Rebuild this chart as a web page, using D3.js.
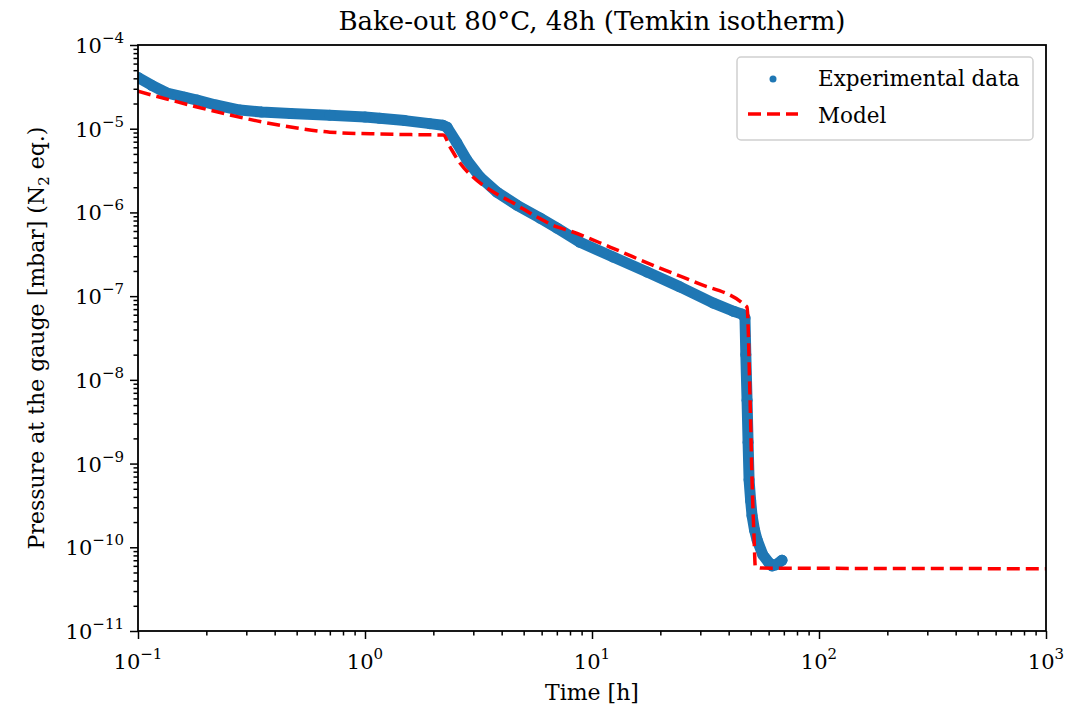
<!DOCTYPE html>
<html lang="en">
<head>
<meta charset="UTF-8">
<title>Bake-out 80°C, 48h (Temkin isotherm)</title>
<script src="https://d3js.org/d3.v7.min.js"></script>
<style>
  body { margin: 0; background: #fff; }
  text { font-family: "DejaVu Serif", "Liberation Serif", serif; fill: #000; }
</style>
</head>
<body>
<script>
    var expTime = [0.1, 0.115, 0.134, 0.16, 0.182, 0.22, 0.281, 0.35, 0.47, 0.7, 1.0, 1.16, 1.5, 1.93, 2.2, 2.3,
        2.54, 2.81, 3.21, 3.81, 4.67, 5.9, 7.01, 8.86, 12.4, 17.5, 24.4, 34.1, 42, 45.8,
        47.2, 47.6, 48.2, 48.7, 49.2, 50.0, 50.7, 52.0, 53.4, 56.6, 60, 62.1, 64.8, 68.7];
    var expPressure = [4.1e-5, 3.3e-5, 2.67e-5, 2.38e-5, 2.2e-5, 1.92e-5, 1.67e-5, 1.58e-5, 1.52e-5, 1.45e-5, 1.38e-5, 1.33e-5, 1.25e-5, 1.15e-5, 1.1e-5, 1.04e-5,
        6.75e-6, 4.23e-6, 2.65e-6, 1.75e-6, 1.22e-6, 8.57e-7, 6.51e-7, 4.4e-7, 2.93e-7, 1.94e-7, 1.29e-7, 8.3e-8, 6.6e-8, 6.1e-8,
        5.5e-8, 2.0e-8, 5.7e-9, 1.8e-9, 6.4e-10, 3.6e-10, 2.4e-10, 1.6e-10, 1.22e-10, 8.1e-11, 6.6e-11, 6.0e-11, 6.2e-11, 7.0e-11];

    // model curve
    var modelTime = [0.1, 0.134, 0.182, 0.254, 0.334, 0.501, 0.7, 1.16, 1.6, 2.21,
        2.37, 2.62, 2.99, 3.56, 4.49, 5.73, 7.01, 8.0, 12.0, 19.3, 29.0, 48.2,
        49.7, 50.7, 51.8, 52.4, 56, 1000];
    var modelPressure = [2.8e-5, 2.26e-5, 1.82e-5, 1.46e-5, 1.24e-5, 1.02e-5, 9.1e-6, 8.65e-6, 8.5e-6, 8.41e-6,
        6.04e-6, 3.89e-6, 2.65e-6, 1.85e-6, 1.3e-6, 8.81e-7, 6.7e-7, 6.0e-7, 3.86e-7, 2.23e-7, 1.44e-7, 7.4e-8,
        5.7e-9, 6.4e-10, 1.22e-10, 5.9e-11, 5.64e-11, 5.55e-11];

    var xMajor = [0.1, 1, 10, 100, 1000];
    var xExp = [-1, 0, 1, 2, 3];
    var yMajor = [1e-4, 1e-5, 1e-6, 1e-7, 1e-8, 1e-9, 1e-10, 1e-11];
    var yExp = [-4, -5, -6, -7, -8, -9, -10, -11];

    var W = 1066, H = 707;
    var pLeft = 138, pRight = 1046, pTop = 45, pBottom = 631;

    var x = d3.scaleLog().domain([0.1, 1000]).range([pLeft, pRight]);
    var y = d3.scaleLog().domain([1e-11, 1e-4]).range([pBottom, pTop]);

    var svg = d3.select("body").append("svg")
        .attr("width", W)
        .attr("height", H);

    function minors(lo, hi) {
        var out = [];
        for (var e = lo; e < hi; e++) {
            for (var m = 2; m <= 9; m++) out.push(m * Math.pow(10, e));
        }
        return out;
    }

    svg.append("defs").append("clipPath").attr("id", "plotclip")
        .append("rect")
        .attr("x", pLeft).attr("y", pTop)
        .attr("width", pRight - pLeft).attr("height", pBottom - pTop);

    // data layers
    var plot = svg.append("g").attr("clip-path", "url(#plotclip)");

    var expData = expTime.map(function(t, i) { return [t, expPressure[i]]; });
    var modelData = modelTime.map(function(t, i) { return [t, modelPressure[i]]; });

    var line = d3.line()
        .x(function(d) { return x(d[0]); })
        .y(function(d) { return y(d[1]); });

    var blue = "#1f77b4";

    // dense scatter drawn as a band plus the read points
    plot.append("path")
        .attr("d", line(expData))
        .attr("fill", "none")
        .attr("stroke", blue)
        .attr("stroke-width", 11)
        .attr("stroke-linejoin", "round")
        .attr("stroke-linecap", "round");

    plot.append("g").selectAll("circle")
        .data(expData)
        .enter().append("circle")
        .attr("cx", function(d) { return x(d[0]); })
        .attr("cy", function(d) { return y(d[1]); })
        .attr("r", 5.5)
        .attr("fill", blue);

    plot.append("path")
        .attr("d", line.curve(d3.curveMonotoneX)(modelData))
        .attr("fill", "none")
        .attr("stroke", "#ff0000")
        .attr("stroke-width", 3.5)
        .attr("stroke-dasharray", "13,6");

    // axes
    var xAxis = svg.append("g").attr("transform", "translate(0," + pBottom + ")");
    xAxis.call(d3.axisBottom(x).tickValues(xMajor).tickSize(8).tickSizeOuter(0).tickFormat(""));
    xAxis.append("g").call(d3.axisBottom(x).tickValues(minors(-1, 3)).tickSize(4.5).tickSizeOuter(0).tickFormat(""));

    var yAxis = svg.append("g").attr("transform", "translate(" + pLeft + ",0)");
    yAxis.call(d3.axisLeft(y).tickValues(yMajor).tickSize(8).tickSizeOuter(0).tickFormat(""));
    yAxis.append("g").call(d3.axisLeft(y).tickValues(minors(-11, -4)).tickSize(4.5).tickSizeOuter(0).tickFormat(""));

    svg.selectAll(".tick line").attr("stroke", "#000").attr("stroke-width", 1.5);
    svg.selectAll(".domain").remove();

    // tick labels with exponents
    xMajor.forEach(function(v, i) {
        var t = svg.append("text")
            .attr("x", x(v))
            .attr("y", pBottom + 38)
            .attr("text-anchor", "middle")
            .style("font-size", "21px");
        t.append("tspan").text("10");
        t.append("tspan").attr("dy", -10).style("font-size", "15px").text(xExp[i] < 0 ? "\u2212" + (-xExp[i]) : xExp[i]);
    });

    yMajor.forEach(function(v, i) {
        var t = svg.append("text")
            .attr("x", pLeft - 14)
            .attr("y", y(v) + 8)
            .attr("text-anchor", "end")
            .style("font-size", "21px");
        t.append("tspan").text("10");
        t.append("tspan").attr("dy", -10).style("font-size", "15px").text("\u2212" + (-yExp[i]));
    });

    // frame
    svg.append("rect")
        .attr("x", pLeft).attr("y", pTop)
        .attr("width", pRight - pLeft).attr("height", pBottom - pTop)
        .attr("fill", "none")
        .attr("stroke", "#000")
        .attr("stroke-width", 1.8);

    // titles
    svg.append("text")
        .attr("x", (pLeft + pRight) / 2)
        .attr("y", 30)
        .attr("text-anchor", "middle")
        .style("font-size", "26px")
        .text("Bake-out 80\u00b0C, 48h (Temkin isotherm)");

    svg.append("text")
        .attr("x", (pLeft + pRight) / 2)
        .attr("y", 700)
        .attr("text-anchor", "middle")
        .style("font-size", "22px")
        .text("Time [h]");

    var yl = svg.append("text")
        .attr("transform", "translate(44," + ((pTop + pBottom) / 2) + ") rotate(-90)")
        .attr("text-anchor", "middle")
        .style("font-size", "22px");
    yl.append("tspan").text("Pressure at the gauge [mbar] (N");
    yl.append("tspan").attr("dy", 5).style("font-size", "15px").text("2");
    yl.append("tspan").attr("dy", -5).text(" eq.)");

    // legend
    var lg = svg.append("g");
    lg.append("rect")
        .attr("x", 737).attr("y", 57)
        .attr("width", 296).attr("height", 83)
        .attr("rx", 4)
        .attr("fill", "#fff")
        .attr("fill-opacity", 0.8)
        .attr("stroke", "#d0d0d0")
        .attr("stroke-width", 1.5);
    lg.append("circle")
        .attr("cx", 773).attr("cy", 79)
        .attr("r", 3.5)
        .attr("fill", blue);
    lg.append("line")
        .attr("x1", 748).attr("x2", 798)
        .attr("y1", 114).attr("y2", 114)
        .attr("stroke", "#ff0000")
        .attr("stroke-width", 3.5)
        .attr("stroke-dasharray", "13,6");
    lg.append("text")
        .attr("x", 818).attr("y", 86)
        .style("font-size", "21.5px")
        .text("Experimental data");
    lg.append("text")
        .attr("x", 818).attr("y", 123)
        .style("font-size", "21.5px")
        .text("Model");
</script>
</body>
</html>
